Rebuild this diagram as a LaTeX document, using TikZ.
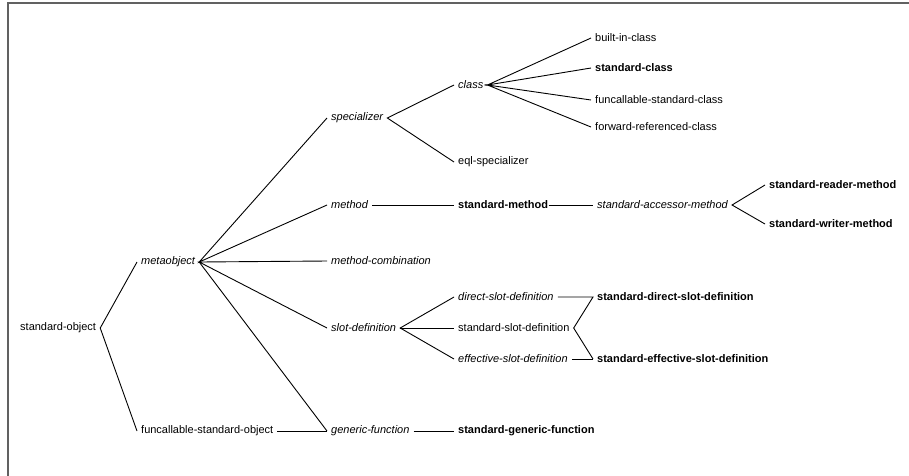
\documentclass[tikz,border=0pt]{standalone}
\usepackage{fontspec}
\setmainfont{Liberation Sans}
\begin{document}
\begin{tikzpicture}[x=1pt,y=-1pt,
  lbl/.style={anchor=west,inner xsep=4pt,inner ysep=0pt,font=\fontsize{11}{12}\selectfont},
  it/.style={lbl,font=\fontsize{11}{12}\selectfont\itshape},
  bf/.style={lbl,font=\fontsize{11}{12}\selectfont\bfseries},
  edge/.style={draw=black,line width=0.9pt},
  frame/.style={draw=black!62,line width=2pt}]
\useasboundingbox (0,0) rectangle (909,475);
\coordinate (fr1) at (8,476);
\coordinate (fr2) at (8,2.5);
\coordinate (fr3) at (910,2.5);
\draw[frame] (fr1) -- (fr2) -- (fr3);

\node[lbl] (so) at (16,328) {standard-object};
\node[it] (mo) at (137,262) {metaobject};
\node[lbl] (fso) at (137,431) {funcallable-standard-object};

\node[it] (spec) at (327,118) {specializer};
\node[it] (meth) at (327,205) {method};
\node[it] (mc) at (327,261) {method-combination};
\node[it] (sd) at (327,328) {slot-definition};
\node[it] (gf) at (327,431) {generic-function};

\node[it] (cls) at (454,85) {class};
\node[lbl] (eql) at (454,162) {eql-specializer};
\node[bf] (sm) at (454,205) {standard-method};
\node[it] (dsd) at (454,297) {direct-slot-definition};
\node[lbl] (ssd) at (454,328) {standard-slot-definition};
\node[it] (esd) at (454,359) {effective-slot-definition};
\node[bf] (sgf) at (454,431) {standard-generic-function};

\node[lbl] (bic) at (591,38) {built-in-class};
\node[bf] (sc) at (591,68) {standard-class};
\node[lbl] (fsc) at (591,100) {funcallable-standard-class};
\node[lbl] (frc) at (591,127) {forward-referenced-class};
\node[it] (sam) at (593,205) {standard-accessor-method};
\node[bf] (sdsd) at (593,297) {standard-direct-slot-definition};
\node[bf] (sesd) at (593,359) {standard-effective-slot-definition};

\node[bf] (srm) at (765,185) {standard-reader-method};
\node[bf] (swm) at (765,224) {standard-writer-method};

\draw[edge] (mo.west) -- (so.east) -- (fso.west);
\draw[edge] (spec.west) -- (mo.east) -- (meth.west);
\draw[edge] (mc.west) -- (mo.east) -- (sd.west);
\draw[edge] (mo.east) -- (gf.west);
\draw[edge] (fso.east) -- (gf.west);
\draw[edge] (cls.west) -- (spec.east) -- (eql.west);
\draw[edge] (bic.west) -- (cls.east) -- (sc.west);
\draw[edge] (fsc.west) -- (cls.east) -- (frc.west);
\draw[edge] (meth.east) -- (sm.west);
\draw[edge] ([xshift=-3.5pt]sm.east) -- (sam.west);
\draw[edge] (srm.west) -- (sam.east) -- (swm.west);
\draw[edge] (dsd.west) -- (sd.east) -- (esd.west);
\draw[edge] (sd.east) -- (ssd.west);
\draw[edge] (dsd.east) -- (sdsd.west) -- (ssd.east) -- (sesd.west);
\draw[edge] (esd.east) -- (sesd.west);
\draw[edge] (gf.east) -- (sgf.west);
\end{tikzpicture}
\end{document}
